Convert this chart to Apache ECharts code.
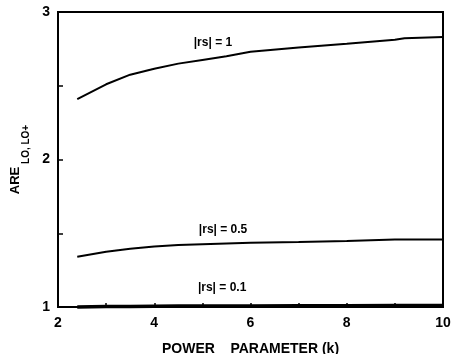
<!DOCTYPE html>
<html>
<head>
<meta charset="utf-8">
<script src="https://cdn.jsdelivr.net/npm/echarts@6/dist/echarts.min.js"></script>
<style>
html,body{margin:0;padding:0;background:#fff;}
#c{width:459px;height:354px;}
</style>
</head>
<body>
<div id="c"></div>
<script>
// Data
var kValues = [2.4, 3, 3.5, 4, 4.5, 5, 5.5, 6, 7, 8, 9, 9.2, 10];
var rs1 = [2.41, 2.51, 2.575, 2.615, 2.65, 2.675, 2.70, 2.73, 2.76, 2.785, 2.812, 2.822, 2.83];
var rs05 = [1.34, 1.375, 1.395, 1.41, 1.42, 1.425, 1.43, 1.435, 1.44, 1.448, 1.457, 1.458, 1.457];
var rs01 = [1.0, 1.003, 1.004, 1.005, 1.006, 1.006, 1.007, 1.007, 1.008, 1.009, 1.01, 1.01, 1.01];
var seriesNames = ['|rs| = 1', '|rs| = 0.5', '|rs| = 0.1'];
var xTickLabels = [2, 4, 6, 8, 10];
var yTickLabels = [1, 2, 3];

function pairs(xs, ys) { return xs.map(function (x, i) { return [x, ys[i]]; }); }

var font = 'Liberation Sans, Arial, sans-serif';
var chart = echarts.init(document.getElementById('c'));

function lineSeries(name, vals, width, labelAt) {
  return {
    type: 'line', name: name, data: pairs(kValues, vals),
    showSymbol: false, symbol: 'none', clip: false,
    lineStyle: { color: '#000', width: width },
    markPoint: {
      symbol: 'circle', symbolSize: 0,
      data: [{ coord: labelAt, value: name }],
      label: { show: true, position: 'inside', formatter: name, color: '#000',
               fontFamily: font, fontSize: 12, fontWeight: 'bold' }
    }
  };
}

chart.setOption({
  animation: false,
  backgroundColor: '#fff',
  grid: { left: 58, right: 16, top: 12, bottom: 47, show: true, containLabel: false,
          outerBoundsMode: 'none',
          borderColor: '#000', borderWidth: 2, backgroundColor: 'transparent' },
  xAxis: {
    type: 'value', min: 2, max: 10, interval: 1,
    name: 'POWER    PARAMETER (k)', nameLocation: 'middle', nameGap: 35,
    nameTextStyle: { color: '#000', fontFamily: font, fontSize: 14, fontWeight: 'bold' },
    axisLine: { show: true, lineStyle: { color: '#000', width: 2 } },
    axisTick: { show: true, inside: true, length: 4, lineStyle: { color: '#000', width: 1.5 } },
    splitLine: { show: false },
    axisLabel: { color: '#000', fontFamily: font, fontSize: 14, fontWeight: 'bold', margin: 9,
      formatter: function (v) { return xTickLabels.indexOf(v) >= 0 ? String(v) : ''; } }
  },
  yAxis: {
    type: 'value', min: 1, max: 3, interval: 0.5,
    name: '{a|ARE}{b| LO, LO+}', nameLocation: 'middle', nameGap: 26, nameRotate: 90,
    nameTextStyle: { color: '#000', fontFamily: font, fontWeight: 'bold',
      rich: {
        a: { fontSize: 13, fontWeight: 'bold', fontFamily: font, color: '#000', verticalAlign: 'top', lineHeight: 22 },
        b: { fontSize: 10, fontWeight: 'bold', fontFamily: font, color: '#000', verticalAlign: 'bottom', lineHeight: 22 }
      } },
    axisLine: { show: true, lineStyle: { color: '#000', width: 2 } },
    axisTick: { show: true, inside: true, length: 5, lineStyle: { color: '#000', width: 1.5 } },
    splitLine: { show: false },
    axisLabel: { color: '#000', fontFamily: font, fontSize: 14, fontWeight: 'bold', margin: 8,
      formatter: function (v) { return yTickLabels.indexOf(v) >= 0 ? String(v) : ''; } }
  },
  series: [
    lineSeries(seriesNames[0], rs1, 2, [5.22, 2.79]),
    lineSeries(seriesNames[1], rs05, 2, [5.43, 1.522]),
    lineSeries(seriesNames[2], rs01, 3.5, [5.41, 1.129])
  ]
});
</script>
</body>
</html>
